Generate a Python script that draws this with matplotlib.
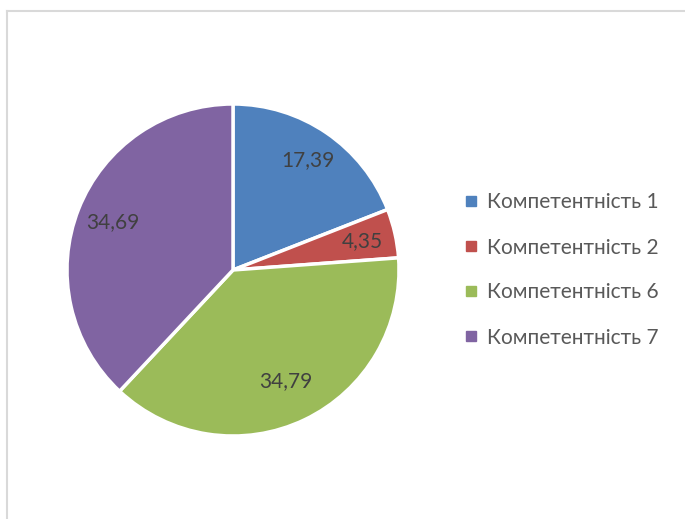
import numpy as np
import matplotlib.pyplot as plt
from matplotlib.lines import Line2D

# Data
labels = ['Компетентність 1', 'Компетентність 2', 'Компетентність 6', 'Компетентність 7']
values = [17.39, 4.35, 34.79, 34.69]
value_labels = ['17,39', '4,35', '34,79', '34,69']
colors = ['#4F81BD', '#C0504D', '#9BBB59', '#8064A2']

fig = plt.figure(figsize=(6.85, 5.19), dpi=100)
W, H = 685, 519

# Light frame (top and left edges)
fig.add_artist(Line2D([6.5 / W, 1], [1 - 11 / H, 1 - 11 / H], color='#d9d9d9', lw=1.5))
fig.add_artist(Line2D([6.5 / W, 6.5 / W], [0, 1 - 11 / H], color='#d9d9d9', lw=1.5))

# Pie axes
cx, cy, r = 233, 270, 166
ax = fig.add_axes([(cx - r) / W, (H - cy - r) / H, 2 * r / W, 2 * r / H])
wedges, texts, autotexts = ax.pie(values, colors=colors, startangle=90, counterclock=False,
                                  autopct='%.2f', pctdistance=0.78,
                                  wedgeprops=dict(edgecolor='white', linewidth=2.5))
# label distances from centre, roughly where Excel put them
dists = [0.80, 0.80, 0.74, 0.78]
for w, t, lab, d in zip(wedges, autotexts, value_labels, dists):
    ang = np.deg2rad((w.theta1 + w.theta2) / 2)
    t.set_position((d * np.cos(ang), d * np.sin(ang)))
    t.set_text(lab)
    t.set_fontsize(15)
    t.set_fontfamily('Lato')
    t.set_color('#404040')
ax.set_xlim(-1.0, 1.0)
ax.set_ylim(-1.0, 1.0)
ax.set_aspect('equal')
ax.axis('off')
for w in wedges:
    w.set_clip_on(False)

# Legend
handles = [Line2D([], [], marker='s', linestyle='', markersize=7, color=c) for c in colors]
fig.legend(handles, labels, loc='center left', bbox_to_anchor=(445 / W, 1 - 270 / H),
           frameon=False, prop={'family': 'Lato', 'size': 15}, labelcolor='#595959',
           handlelength=0.7, handletextpad=0.4, labelspacing=1.2)

plt.savefig('out.png', dpi=100)
